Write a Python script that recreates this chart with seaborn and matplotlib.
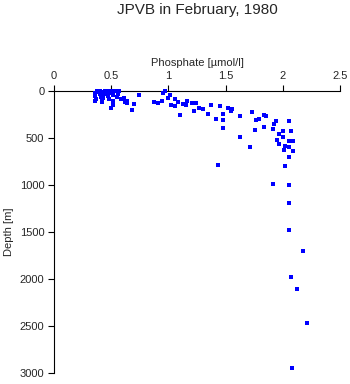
import matplotlib
matplotlib.use("Agg")
import matplotlib.pyplot as plt
import seaborn as sns
import pandas as pd

phosphate = [0.36, 0.37, 0.38, 0.40, 0.42, 0.45, 0.42, 0.42, 0.47, 0.49, 0.52, 0.48, 0.50,
             0.52, 0.52, 0.53, 0.55, 0.57, 0.59, 0.61, 0.64, 0.64, 0.68, 0.70, 0.74, 0.36,
             0.41, 0.43, 0.40, 0.47, 0.56, 0.62, 0.38, 0.44, 0.46, 0.50, 0.36, 0.42,
             0.87, 0.91, 0.94, 0.95, 0.97, 1.00, 1.01, 1.02, 1.06, 1.06, 1.08, 1.10, 1.13,
             1.15, 1.16, 1.21, 1.22, 1.24, 1.27, 1.30, 1.35, 1.37, 1.42, 1.45, 1.48, 1.48,
             1.48, 1.52, 1.55, 1.56, 1.63, 1.63, 1.71, 1.73, 1.76, 1.77, 1.79, 1.84, 1.85,
             1.84, 1.91, 1.92, 1.94, 1.97, 1.95, 1.97, 2.00, 2.00, 2.01, 2.02, 2.05, 2.07,
             2.05, 2.05, 2.09, 2.09, 2.05, 2.02, 1.43, 1.91, 2.05, 2.05, 2.05, 2.18, 2.07,
             2.12, 2.21, 2.08]
depth = [21, 85, 0, 0, 11, 0, 43, 117, 11, 21, 43, 85, 181,
         106, 149, 0, 64, 0, 85, 74, 106, 128, 202, 138, 43, 110,
         60, 75, 30, 50, 30, 120, 15, 30, 5, 5, 55, 95,
         117, 128, 106, 21, 0, 74, 43, 149, 85, 160, 117, 255, 138,
         149, 106, 128, 213, 128, 181, 191, 245, 149, 298, 160, 245, 309,
         394, 181, 213, 191, 266, 489, 596, 223, 415, 309, 298, 255, 266,
         383, 404, 351, 319, 457, 521, 564, 426, 489, 628, 585, 319, 426,
         532, 596, 532, 638, 702, 798, 787, 989, 1000, 1191, 1479, 1702, 1979,
         2106, 2468, 2947]

xticks = [0, 0.5, 1, 1.5, 2, 2.5]
xticklabels = ["0", "0.5", "1", "1.5", "2", "2.5"]
yticks = [0, 500, 1000, 1500, 2000, 2500, 3000]

df = pd.DataFrame({"phosphate": phosphate, "depth": depth})

sns.set_style("ticks")
plt.rcParams["font.family"] = ["Liberation Sans", "DejaVu Sans"]

fig = plt.figure(figsize=(3.5, 3.84), dpi=100)
ax = fig.add_axes([54 / 350, 1 - 373 / 384, 286 / 350, 282 / 384])
sns.scatterplot(data=df, x="phosphate", y="depth", marker="s", s=6, color="#0000ff",
                linewidth=0, ax=ax, clip_on=False, zorder=3)
ax.set_xlim(0, 2.5)
ax.set_ylim(3000, 0)
ax.xaxis.tick_top()
ax.xaxis.set_label_position("top")
ax.set_xticks(xticks)
ax.set_xticklabels(xticklabels)
ax.set_yticks(yticks)
ax.tick_params(axis="both", labelsize=8, length=4, width=0.8, color="black", pad=3)
for s in ["right", "bottom"]:
    ax.spines[s].set_visible(False)
for s in ["left", "top"]:
    ax.spines[s].set_color("black")
    ax.spines[s].set_linewidth(0.8)
ax.set_xlabel("Phosphate [µmol/l]", fontsize=8, labelpad=4)
ax.set_ylabel("Depth [m]", fontsize=8, labelpad=4)
fig.text(197 / 350, 1 - 10 / 384, "JPVB in February, 1980", ha="center", va="center", fontsize=11)
fig.savefig("out.png", dpi=100)
